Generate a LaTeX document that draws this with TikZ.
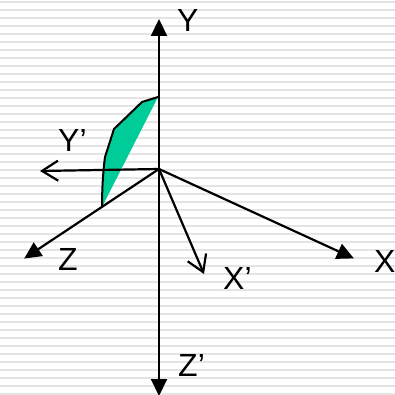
\documentclass[tikz,border=0pt]{standalone}
\usepackage{fontspec}
\setmainfont{Liberation Sans}
\usetikzlibrary{arrows.meta}
\definecolor{stripe}{HTML}{E4E4E4}
\definecolor{leaf}{HTML}{00CC99}
\tikzset{
  axisline/.style={line width=2.2pt,black},
  solidaxis/.style={axisline,-{Triangle[length=17pt,width=16pt]},shorten >=-1pt},
  openaxis/.style={axisline,-{Straight Barb[length=16pt,width=20pt,line width=2.2pt]},line cap=round},
  lab/.style={inner sep=0pt,font=\fontsize{32}{32}\selectfont,text=black,anchor=base west},
}
\begin{document}
\begin{tikzpicture}[x=1pt,y=-1pt]
\useasboundingbox (0,0) rectangle (395,395);
\fill[white] (0,0) rectangle (395,395);
\foreach \k in {0,...,49} {
  \fill[stripe] (0,{0.6+8*\k}) rectangle (395,{3+8*\k});
}
\coordinate (O) at (159,169);
\coordinate (Ytip) at (159,20);
\coordinate (Zptip) at (159,395);
\coordinate (Yptip) at (40,171);
\coordinate (Ztip) at (25,258);
\coordinate (Xtip) at (353,258);
\coordinate (Xptip) at (204,274);
\coordinate (L1) at (158,97);
\coordinate (L2) at (142,102);
\coordinate (L3) at (114,129);
\coordinate (L4) at (105,157);
\coordinate (L5) at (102,207);
\fill[leaf] (L1) -- (L2) -- (L3) -- (L4) -- (L5) -- cycle;
\draw[line width=2pt] (L1) -- (L2) -- (L3) -- (L4) .. controls (103,172) and (102,190) .. (L5);
\draw[solidaxis] (O) -- (Ytip);
\draw[solidaxis] (O) -- (Zptip);
\draw[solidaxis] (O) -- (Ztip);
\draw[solidaxis] (O) -- (Xtip);
\draw[openaxis] (O) -- (Yptip);
\draw[openaxis] (O) -- (Xptip);
\node[lab] (ly) at (177,32) {Y};
\node[lab] (lyp) at (58,152) {Y’};
\node[lab] (lz) at (58,270) {Z};
\node[lab] (lx) at (374,272) {X};
\node[lab] (lxp) at (223,289) {X’};
\node[lab] (lzp) at (178,376) {Z’};
\end{tikzpicture}
\end{document}
